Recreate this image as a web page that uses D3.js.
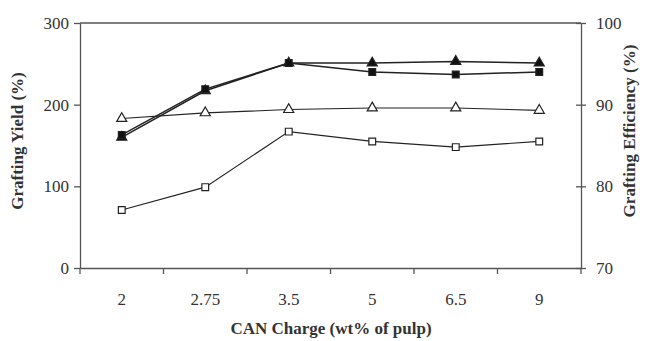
<!DOCTYPE html>
<html><head><meta charset="utf-8">
<script src="https://cdn.jsdelivr.net/npm/d3@7"></script>
<style>body{margin:0;background:#fff}svg{display:block}text{font-family:"Liberation Serif",serif;fill:#333}</style>
</head><body><svg id="c" width="650" height="341"></svg>
<script>
const categories = ["2","2.75","3.5","5","6.5","9"];
const yieldOpen = [71, 99, 167, 155, 148, 155];      // open squares (left axis)
const yieldFilled = [163, 219, 251, 240, 237, 240];  // filled squares (left axis)
const effOpen = [88.3, 89.0, 89.4, 89.6, 89.6, 89.3]; // open triangles (right axis)
const effFilled = [86.0, 91.7, 95.1, 95.1, 95.3, 95.1]; // filled triangles (right axis)
const leftTicks = [0, 100, 200, 300];
const rightTicks = [70, 80, 90, 100];

const svg = d3.select("#c");
const L = 80, R = 581, T = 23, B = 268;
const x = d3.scaleBand().domain(categories).range([L, R]);
const yL = d3.scaleLinear().domain([0, 300]).range([B, T]);
const yR = d3.scaleLinear().domain([70, 100]).range([B, T]);
const axisCol = "#555";

svg.append("line").attr("x1", L).attr("x2", R).attr("y1", T).attr("y2", T).attr("stroke", axisCol).attr("stroke-width", 1.3);

const gl = svg.append("g").attr("transform", `translate(${L},0)`)
  .call(d3.axisLeft(yL).tickValues(leftTicks).tickSize(6).tickPadding(5).tickSizeOuter(0));
const gr = svg.append("g").attr("transform", `translate(${R},0)`)
  .call(d3.axisRight(yR).tickValues(rightTicks).tickSize(5).tickPadding(10).tickSizeOuter(0));
gr.selectAll(".tick line").attr("x1", -5);
const gb = svg.append("g").attr("transform", `translate(0,${B})`)
  .call(d3.axisBottom(x).tickSize(0).tickPadding(25).tickSizeOuter(0));
const bounds = categories.map(c => x(c)).concat([R]);
gb.selectAll(".btick").data(bounds).enter().append("line")
  .attr("x1", d => d).attr("x2", d => d).attr("y1", 0).attr("y2", 6)
  .attr("stroke", axisCol).attr("stroke-width", 1.3);

[gl, gr, gb].forEach(g => {
  g.select(".domain").attr("stroke", axisCol).attr("stroke-width", 1.3);
  g.selectAll(".tick line").attr("stroke", axisCol).attr("stroke-width", 1.3);
  g.selectAll("text").attr("font-size", 17).attr("fill", "#444")
    .attr("font-family", "'Liberation Serif', serif");
});
gr.selectAll("text").attr("text-anchor", "start");

const cx = c => x(c) + x.bandwidth() / 2;
const sqr = d3.symbol().type(d3.symbolSquare).size(46);
const tri = d3.symbol().type(d3.symbolTriangle).size(44);

function series(vals, yScale, sym, filled, lw) {
  const pts = vals.map((v, i) => [cx(categories[i]), yScale(v)]);
  svg.append("path").attr("d", d3.line()(pts)).attr("fill", "none")
    .attr("stroke", "#222").attr("stroke-width", lw);
  svg.selectAll(null).data(pts).enter().append("path")
    .attr("d", sym).attr("transform", d => `translate(${d[0]},${d[1]})`)
    .attr("fill", filled ? "#111" : "#fff").attr("stroke", "#222").attr("stroke-width", 1.2);
}
series(effOpen, yR, tri, false, 1.1);
series(yieldOpen, yL, sqr, false, 1.1);
series(effFilled, yR, tri, true, 1.5);
series(yieldFilled, yL, sqr, true, 1.5);

svg.append("text").attr("transform", `translate(23,141) rotate(-90)`).attr("text-anchor", "middle")
  .attr("font-size", 17).attr("font-weight", "bold").text("Grafting Yield (%)");
svg.append("text").attr("transform", `translate(635,131) rotate(-90)`).attr("text-anchor", "middle")
  .attr("font-size", 17).attr("font-weight", "bold").text("Grafting Efficiency (%)");
svg.append("text").attr("x", 331).attr("y", 334).attr("text-anchor", "middle")
  .attr("font-size", 17).attr("font-weight", "bold").text("CAN Charge (wt% of pulp)");
</script></body></html>
